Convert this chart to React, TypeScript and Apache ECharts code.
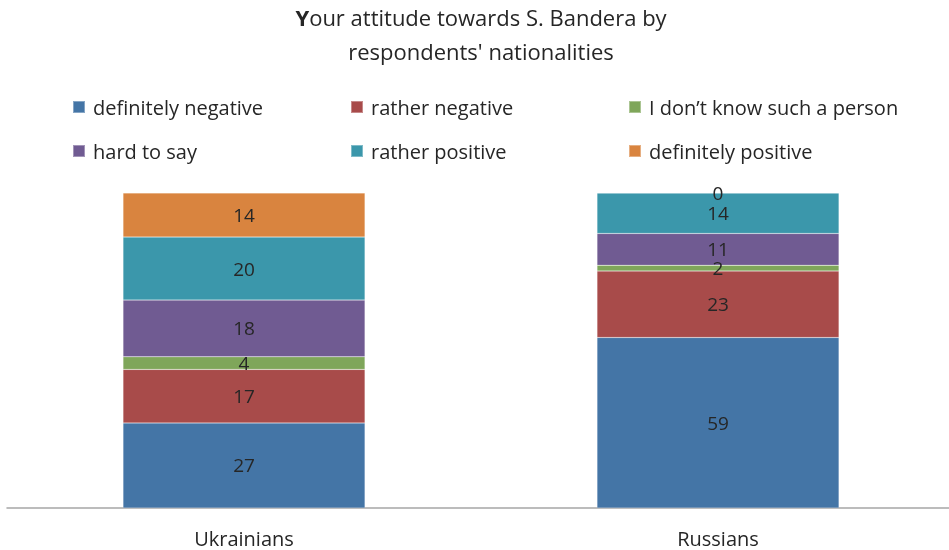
import React, { useEffect, useRef } from "react";
import * as echarts from "echarts";

const categories = ["Ukrainians", "Russians"];
const seriesNames = [
  "definitely negative",
  "rather negative",
  "I don’t know such a person",
  "hard to say",
  "rather positive",
  "definitely positive",
];
const definitelyNegative = [27, 59];
const ratherNegative = [17, 23];
const dontKnow = [4, 2];
const hardToSay = [18, 11];
const ratherPositive = [20, 14];
const definitelyPositive = [14, 0];
const colors = ["#4475A6", "#A84B4A", "#7FA65A", "#705B92", "#3B97AB", "#D9843F"];

const FONT = "Open Sans";

export default function App() {
  const ref = useRef<HTMLDivElement>(null);
  useEffect(() => {
    const chart = echarts.init(ref.current!, undefined, { renderer: "svg" });
    const all = [definitelyNegative, ratherNegative, dontKnow, hardToSay, ratherPositive, definitelyPositive];
    const totals = categories.map((_, i) => all.reduce((s, a) => s + a[i], 0));
    const series = all.map((arr, k) => ({
      name: seriesNames[k],
      type: "bar",
      stack: "total",
      barWidth: 242,
      itemStyle: { color: colors[k], borderColor: "rgba(255,255,255,0.35)", borderWidth: 0.5 },
      label: {
        show: true,
        position: "inside",
        formatter: (p: any) => String(arr[p.dataIndex]),
        color: "#262626",
        fontSize: 19,
        fontFamily: FONT,
      },
      data: arr.map((v, i) => (v / totals[i]) * 100),
    }));
    const legendCommon = {
      orient: "vertical",
      itemWidth: 12,
      itemHeight: 12,
      itemGap: 24,
      padding: 0,
      icon: "rect",
      textStyle: { fontSize: 20, fontFamily: FONT, color: "#262626", lineHeight: 20, padding: [0, 0, 0, 3] },
      top: 97,
    };
    chart.setOption({
      animation: false,
      title: {
        text: "{b|Y}our attitude towards S. Bandera by\nrespondents' nationalities",
        left: 481,
        textAlign: "center",
        top: 0,
        padding: 0,
        textStyle: {
          fontSize: 22,
          fontWeight: "normal",
          fontFamily: FONT,
          color: "#262626",
          lineHeight: 34,
          rich: {
            b: { fontSize: 22, fontWeight: "bold", fontFamily: FONT, color: "#262626", lineHeight: 34 },
          },
        },
      },
      legend: [
        { ...legendCommon, left: 72, data: [seriesNames[0], seriesNames[3]] },
        { ...legendCommon, left: 350, data: [seriesNames[1], seriesNames[4]] },
        { ...legendCommon, left: 628, data: [seriesNames[2], seriesNames[5]] },
      ],
      grid: { left: 7, right: 0, top: 193, bottom: 42, containLabel: false },
      xAxis: {
        type: "category",
        data: categories,
        axisLine: { lineStyle: { color: "#A6A6A6", width: 1.5 } },
        axisTick: { show: false },
        axisLabel: { fontSize: 20, fontFamily: FONT, color: "#262626", margin: 20 },
      },
      yAxis: { type: "value", min: 0, max: 100, show: false, splitLine: { show: false } },
      series,
    });
    return () => chart.dispose();
  }, []);
  return <div ref={ref} style={{ width: 955, height: 550, position: "fixed", left: 0, top: 0 }} />;
}
